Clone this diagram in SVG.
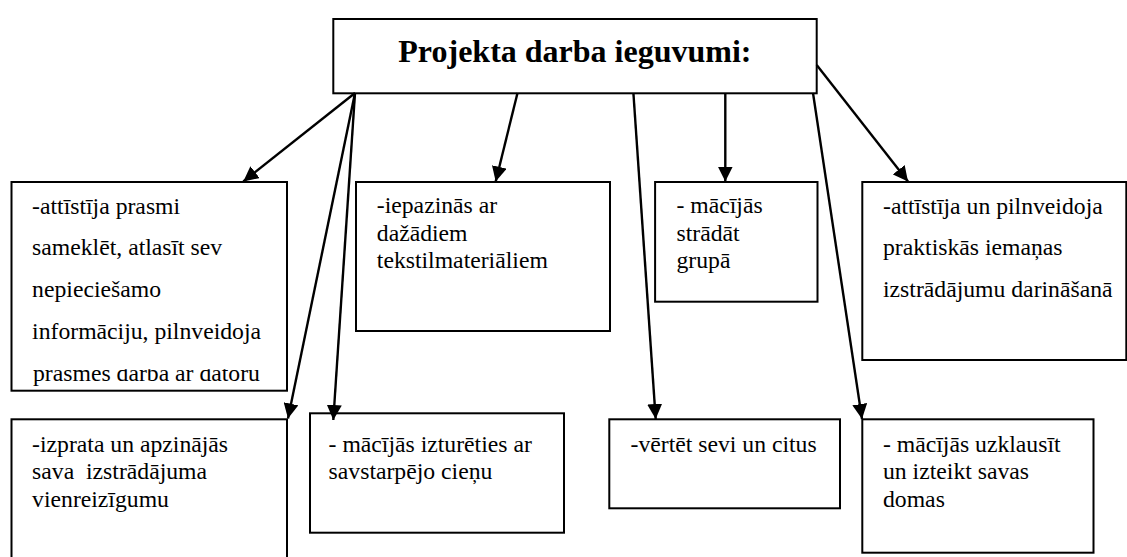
<svg xmlns="http://www.w3.org/2000/svg" width="1127" height="557" viewBox="0 0 1127 557">
<style>
.box{fill:#fff;stroke:#000;stroke-width:2}
.lbl{font-family:"Liberation Serif","Times New Roman",serif;font-size:23.7px;fill:#000}
.title{font-family:"Liberation Serif","Times New Roman",serif;font-size:32px;font-weight:bold;fill:#000}
.c{stroke:#000;stroke-width:2.4;fill:none;marker-end:url(#ah)}
</style>
<defs>
<marker id="ah" markerUnits="userSpaceOnUse" markerWidth="16" markerHeight="15" refX="15" refY="7.5" orient="auto">
<path d="M0,0 L15,7.5 L0,15 z" fill="#000"/>
</marker>
<clipPath id="clip1"><rect x="11" y="369.3" width="276" height="21"/></clipPath>
</defs>
<rect width="1127" height="557" fill="#fff"/>
<g id="title">
<rect class="box" x="333.3" y="19" width="483.4" height="74.3"/>
<text class="title" x="398.3" y="61.7">Projekta darba ieguvumi:</text>
</g>
<g id="n1">
<rect class="box" x="11.5" y="182" width="275.5" height="208.7"/>
<text class="lbl" x="32.1" y="213.5">-attīstīja prasmi</text>
<text class="lbl" x="32.1" y="255.3">sameklēt, atlasīt sev</text>
<text class="lbl" x="32.1" y="297.1">nepieciešamo</text>
<text class="lbl" x="32.1" y="338.9">informāciju, pilnveidoja</text>
<text class="lbl" x="33" y="380.7" clip-path="url(#clip1)">prasmes darbā ar datoru</text>
</g>
<g id="n2">
<rect class="box" x="356" y="182" width="254" height="149"/>
<text class="lbl" x="376.8" y="213.3">-iepazinās ar</text>
<text class="lbl" x="376.8" y="240.8">dažādiem</text>
<text class="lbl" x="376.8" y="268.3">tekstilmateriāliem</text>
</g>
<g id="n3">
<rect class="box" x="655.1" y="182" width="162.4" height="119.7"/>
<text class="lbl" x="676.5" y="213.3">- mācījās</text>
<text class="lbl" x="676.5" y="240.8">strādāt</text>
<text class="lbl" x="676.5" y="268.3">grupā</text>
</g>
<g id="n4">
<rect class="box" x="862.3" y="182" width="264" height="178"/>
<text class="lbl" x="883" y="213.5">-attīstīja un pilnveidoja</text>
<text class="lbl" x="883" y="255.3">praktiskās iemaņas</text>
<text class="lbl" x="883" y="297.1">izstrādājumu darināšanā</text>
</g>
<g id="n5">
<rect class="box" x="11.5" y="419.3" width="275.5" height="150"/>
<text class="lbl" x="32.1" y="451.7">-izprata un apzinājās</text>
<text class="lbl" x="32.1" y="479.2" xml:space="preserve">sava  izstrādājuma</text>
<text class="lbl" x="32.1" y="506.7">vienreizīgumu</text>
</g>
<g id="n6">
<rect class="box" x="310" y="413.3" width="254" height="119.4"/>
<text class="lbl" x="328.6" y="451.7">- mācījās izturēties ar</text>
<text class="lbl" x="328.6" y="479.2">savstarpējo cieņu</text>
</g>
<g id="n7">
<rect class="box" x="609.3" y="419.3" width="230.7" height="89"/>
<text class="lbl" x="630.5" y="451.7">-vērtēt sevi un citus</text>
</g>
<g id="n8">
<rect class="box" x="862.3" y="419.3" width="231.2" height="133.4"/>
<text class="lbl" x="883" y="451.7">- mācījās uzklausīt</text>
<text class="lbl" x="883" y="479.2">un izteikt savas</text>
<text class="lbl" x="883" y="506.7">domas</text>
</g>
<g id="connectors">
<line class="c" x1="355" y1="93" x2="243.3" y2="181.5"/>
<line class="c" x1="355" y1="93" x2="288" y2="418.5"/>
<line class="c" x1="355" y1="93" x2="333.3" y2="420"/>
<line class="c" x1="517.5" y1="93" x2="495.7" y2="181.5"/>
<line class="c" x1="633.4" y1="93" x2="655.7" y2="419"/>
<line class="c" x1="725.3" y1="93" x2="725.3" y2="181.5"/>
<line class="c" x1="813" y1="93" x2="862" y2="419"/>
<line class="c" x1="816.7" y1="65" x2="908" y2="181.5"/>
</g>
</svg>
